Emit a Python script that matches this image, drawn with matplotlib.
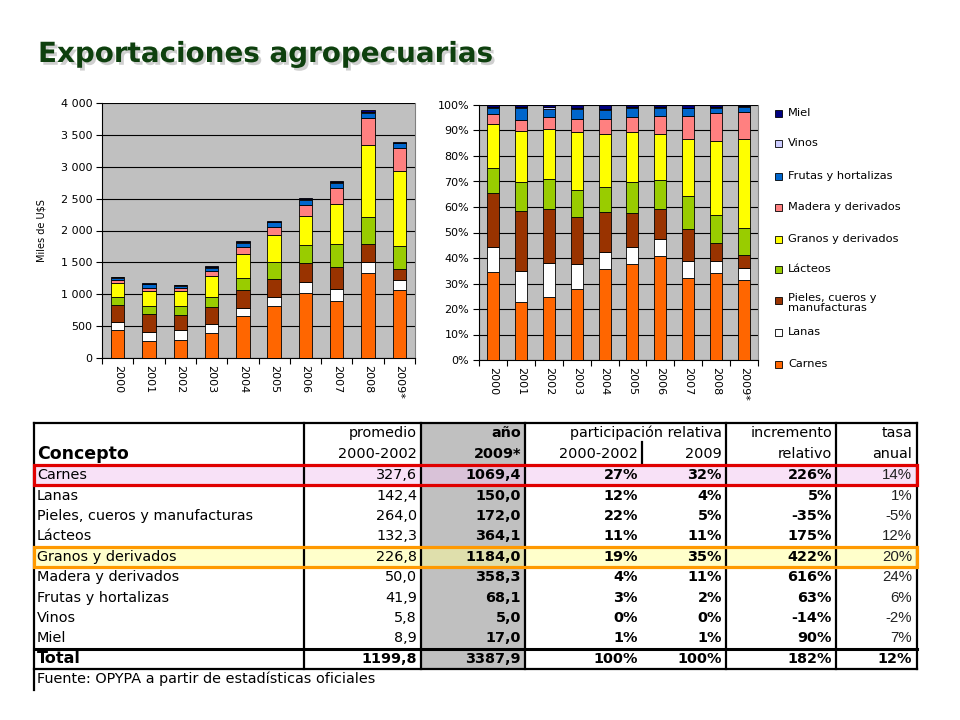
import matplotlib
matplotlib.use('Agg')
import matplotlib.pyplot as plt
import matplotlib.patheffects as pe
from matplotlib.patches import Rectangle
import numpy as np

# ---------------- data ----------------
years = ['2000', '2001', '2002', '2003', '2004', '2005', '2006', '2007', '2008', '2009*']
categories = ['Carnes', 'Lanas', 'Pieles, cueros y manufacturas', 'Lácteos',
              'Granos y derivados', 'Madera y derivados', 'Frutas y hortalizas',
              'Vinos', 'Miel']
legend_labels = ['Carnes', 'Lanas', 'Pieles, cueros y\nmanufacturas', 'Lácteos',
                 'Granos y derivados', 'Madera y derivados', 'Frutas y hortalizas',
                 'Vinos', 'Miel']
colors = ['#FF6600', '#FFFFFF', '#993300', '#99CC00', '#FFFF00',
          '#FF8080', '#0066CC', '#CCCCFF', '#000080']

carnes  = [437, 264, 283, 399, 654, 810, 1020, 894, 1333, 1069.4]
lanas   = [127, 145, 153, 141, 125, 142, 167, 188, 173, 150.0]
pieles  = [267, 276, 244, 266, 288, 287, 303, 346, 282, 172.0]
lacteos = [127, 132, 135, 154, 183, 267, 283, 360, 424, 364.1]
granos  = [221, 234, 229, 328, 381, 424, 455, 623, 1124, 1184.0]
madera  = [48, 50, 54, 73, 110, 120, 177, 251, 424, 358.3]
frutas  = [32, 54, 37, 55, 63, 78, 79, 83, 84, 68.1]
vinos   = [5, 6, 6, 8, 8, 8, 8, 8, 8, 5.0]
miel    = [8, 9, 10, 16, 28, 18, 18, 29, 34, 17.0]
series = [carnes, lanas, pieles, lacteos, granos, madera, frutas, vinos, miel]

# table data
prom_0002   = [327.6, 142.4, 264.0, 132.3, 226.8, 50.0, 41.9, 5.8, 8.9]
anio_2009   = [1069.4, 150.0, 172.0, 364.1, 1184.0, 358.3, 68.1, 5.0, 17.0]
part_0002   = [27, 12, 22, 11, 19, 4, 3, 0, 1]
part_2009   = [32, 4, 5, 11, 35, 11, 2, 0, 1]
incremento  = [226, 5, -35, 175, 422, 616, 63, -14, 90]
tasa        = [14, 1, -5, 12, 20, 24, 6, -2, 7]
total_row   = ['Total', 1199.8, 3387.9, 100, 100, 182, 12]

yticks_abs = [0, 500, 1000, 1500, 2000, 2500, 3000, 3500, 4000]
yticks_pct = list(range(0, 101, 10))

# ---------------- figure ----------------
fig = plt.figure(figsize=(9.6, 7.2), dpi=100)
fig.patch.set_facecolor('white')

# overlay axes in pixel coordinates for title / legend / table
axt = fig.add_axes([0, 0, 1, 1])
axt.set_xlim(0, 960)
axt.set_ylim(720, 0)
axt.axis('off')

# title
axt.text(38, 62, 'Exportaciones agropecuarias', fontsize=20, fontweight='bold',
         family='DejaVu Sans', color='#0E400E', va='baseline', ha='left',
         path_effects=[pe.withSimplePatchShadow(offset=(2, -2), shadow_rgbFace='#A0A0A0', alpha=0.5)])

x = np.arange(len(years))
data = np.array(series, dtype=float)
totals = data.sum(axis=0)
pct = data / totals * 100


def style_ax(ax):
    ax.set_facecolor('#C0C0C0')
    ax.set_xlim(-0.5, len(years) - 0.5)
    ax.set_xticks(x)
    ax.set_xticklabels(years, rotation=270, fontsize=8, ha='center', va='top')
    ax.tick_params(axis='x', which='major', length=0, pad=5)
    ax.set_xticks(np.arange(-0.5, len(years), 1), minor=True)
    ax.tick_params(axis='x', which='minor', length=4, width=0.8)
    ax.tick_params(axis='y', length=4, width=0.8, labelsize=8, pad=3)
    ax.yaxis.grid(True, color='black', lw=0.8)
    ax.set_axisbelow(True)
    ax.spines['top'].set_visible(False)
    ax.spines['right'].set_color('#808080')
    ax.spines['right'].set_linewidth(0.8)
    ax.spines['left'].set_linewidth(0.8)
    ax.spines['bottom'].set_linewidth(0.8)


# left chart: absolute values
ax1 = fig.add_axes([102 / 960, 1 - 358 / 720, 313 / 960, 255 / 720])
bottom = np.zeros(len(years))
for vals, col in zip(data, colors):
    ax1.bar(x, vals, 0.43, bottom=bottom, color=col, edgecolor='black', linewidth=0.6, zorder=3)
    bottom += vals
ax1.set_ylim(0, 4000)
ax1.set_yticks(yticks_abs)
ax1.set_yticklabels([f'{v:,}'.replace(',', ' ') for v in yticks_abs])
style_ax(ax1)
ax1.set_ylabel('Miles de U\\$S', fontsize=7, labelpad=10)

# right chart: percentages
ax2 = fig.add_axes([479 / 960, 1 - 360 / 720, 279 / 960, 255 / 720])
bottom = np.zeros(len(years))
for vals, col in zip(pct, colors):
    ax2.bar(x, vals, 0.43, bottom=bottom, color=col, edgecolor='black', linewidth=0.6, zorder=3)
    bottom += vals
ax2.set_ylim(0, 100)
ax2.set_yticks(yticks_pct)
ax2.set_yticklabels([f'{v}%' for v in yticks_pct])
style_ax(ax2)

# legend (top to bottom: reversed order)
leg_y = [364, 332, 300, 269, 239, 207, 176, 143, 113]
for lab, col, yy in zip(legend_labels, colors, leg_y):
    axt.add_patch(Rectangle((775, yy - 3.5), 7, 7, facecolor=col, edgecolor='black', lw=0.6))
    if '\n' in lab:
        axt.text(788, yy - 7, lab, fontsize=8.2, va='top', ha='left', linespacing=1.05)
    else:
        axt.text(788, yy, lab, fontsize=8.2, va='center', ha='left')

# ---------------- table ----------------
L, R = 34, 917
top = 423
row0 = 465
rh = 20.4
nrows = len(categories)
tot_top = row0 + nrows * rh
tot_bot = tot_top + rh
col_lines = [304, 421, 525, 726, 836]

# gray column
axt.add_patch(Rectangle((421, top), 104, tot_bot - top, facecolor='#C0C0C0', edgecolor='none'))

# highlights
hl = {0: ('#F2C4F0', '#E00000'), 4: ('#FFFF99', '#FF9900')}
for i, (fc, ec) in hl.items():
    yt = row0 + i * rh
    axt.add_patch(Rectangle((L, yt), R - L, rh, facecolor=fc, edgecolor='none', alpha=0.5, zorder=2))

# lines
lw = 1.6
axt.plot([L, R], [top, top], color='black', lw=lw)
axt.plot([L, L], [top, 690], color='black', lw=lw)
axt.plot([R, R], [top, tot_bot], color='black', lw=lw)
axt.plot([L, R], [tot_top, tot_top], color='black', lw=2.2)
axt.plot([L, R], [tot_bot, tot_bot], color='black', lw=lw)
for cx in col_lines:
    axt.plot([cx, cx], [top, tot_bot], color='black', lw=lw)
axt.plot([642, 642], [442, 464], color='black', lw=lw)

for i, (fc, ec) in hl.items():
    yt = row0 + i * rh
    axt.add_patch(Rectangle((L, yt), R - L, rh, facecolor='none', edgecolor=ec, lw=2.3, zorder=4))

fs = 10.4
# headers
h1, h2 = 433, 454
axt.text(417, h1, 'promedio', fontsize=fs, ha='right', va='center')
axt.text(521, h1, 'año', fontsize=fs, ha='right', va='center', fontweight='bold')
axt.text(722, h1, 'participación relativa', fontsize=fs, ha='right', va='center')
axt.text(832, h1, 'incremento', fontsize=fs, ha='right', va='center')
axt.text(912, h1, 'tasa', fontsize=fs, ha='right', va='center')
axt.text(37, h2, 'Concepto', fontsize=12.5, ha='left', va='center', fontweight='bold')
axt.text(417, h2, '2000-2002', fontsize=fs, ha='right', va='center')
axt.text(521, h2, '2009*', fontsize=fs, ha='right', va='center', fontweight='bold')
axt.text(638, h2, '2000-2002', fontsize=fs, ha='right', va='center')
axt.text(722, h2, '2009', fontsize=fs, ha='right', va='center')
axt.text(832, h2, 'relativo', fontsize=fs, ha='right', va='center')
axt.text(912, h2, 'anual', fontsize=fs, ha='right', va='center')


def fmt1(v):
    return f'{v:.1f}'.replace('.', ',')


for i in range(nrows):
    yc = row0 + i * rh + rh / 2
    axt.text(37, yc, categories[i], fontsize=fs, ha='left', va='center', zorder=5)
    axt.text(417, yc, fmt1(prom_0002[i]), fontsize=fs, ha='right', va='center', zorder=5)
    axt.text(521, yc, fmt1(anio_2009[i]), fontsize=fs, ha='right', va='center', fontweight='bold', zorder=5)
    axt.text(638, yc, f'{part_0002[i]}%', fontsize=fs, ha='right', va='center', fontweight='bold', zorder=5)
    axt.text(722, yc, f'{part_2009[i]}%', fontsize=fs, ha='right', va='center', fontweight='bold', zorder=5)
    axt.text(832, yc, f'{incremento[i]}%', fontsize=fs, ha='right', va='center', fontweight='bold', zorder=5)
    axt.text(912, yc, f'{tasa[i]}%', fontsize=10.8, family='Liberation Sans', ha='right', va='center',
             color='#222222', zorder=5)

yc = tot_top + rh / 2
axt.text(37, yc, total_row[0], fontsize=11.5, ha='left', va='center', fontweight='bold')
axt.text(417, yc, fmt1(total_row[1]), fontsize=fs, ha='right', va='center', fontweight='bold')
axt.text(521, yc, fmt1(total_row[2]), fontsize=fs, ha='right', va='center', fontweight='bold')
axt.text(638, yc, f'{total_row[3]}%', fontsize=fs, ha='right', va='center', fontweight='bold')
axt.text(722, yc, f'{total_row[4]}%', fontsize=fs, ha='right', va='center', fontweight='bold')
axt.text(832, yc, f'{total_row[5]}%', fontsize=fs, ha='right', va='center', fontweight='bold')
axt.text(912, yc, f'{total_row[6]}%', fontsize=fs, ha='right', va='center', fontweight='bold')

axt.text(37, tot_bot + 10, 'Fuente: OPYPA a partir de estadísticas oficiales', fontsize=fs,
         ha='left', va='center')

fig.savefig('out.png', dpi=100)
